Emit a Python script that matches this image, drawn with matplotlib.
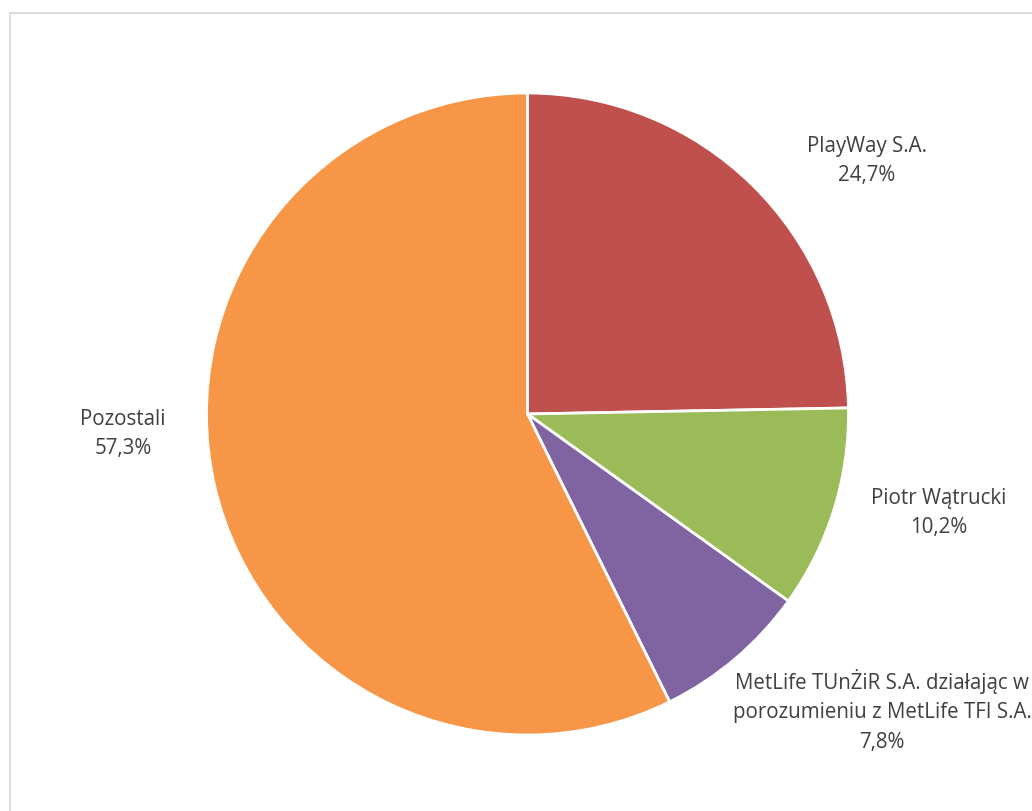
import matplotlib.pyplot as plt
from matplotlib.patches import Rectangle

# dane akcjonariuszy
labels = ['PlayWay S.A.', 'Piotr Wątrucki',
          'MetLife TUnŻiR S.A. działając w\nporozumieniu z MetLife TFI S.A.', 'Pozostali']
values = [24.7, 10.2, 7.8, 57.3]
pct_text = ['24,7%', '10,2%', '7,8%', '57,3%']
colors = ['#C0504D', '#9BBB59', '#8064A2', '#F79646']

W, H = 1032, 812
fig = plt.figure(figsize=(W / 100, H / 100), dpi=100)
ax = fig.add_axes([0, 0, 1, 1])
ax.set_xlim(0, W)
ax.set_ylim(0, H)
ax.set_aspect('equal')
ax.axis('off')

# ramka wykresu
ax.add_patch(Rectangle((9.5, -20), W + 20, H - 13.5 + 20, fill=False,
                       edgecolor='#D9D9D9', linewidth=1.3))

ax.pie(values, colors=colors, startangle=90, counterclock=False,
       center=(527.5, H - 415), radius=321,
       wedgeprops=dict(edgecolor='white', linewidth=2))
ax.set_xlim(0, W)
ax.set_ylim(0, H)

# etykiety (środek tekstu w pikselach)
pos = [(867, 161), (939, 513), (882, 711), (123, 434)]
for lab, p, (x, y) in zip(labels, pct_text, pos):
    ax.text(x, H - y, lab + '\n' + p, ha='center', va='center',
            fontsize=14.8, color='#404040', family=['Open Sans', 'DejaVu Sans'],
            linespacing=1.55, clip_on=False)

fig.savefig('out.png', dpi=100)
